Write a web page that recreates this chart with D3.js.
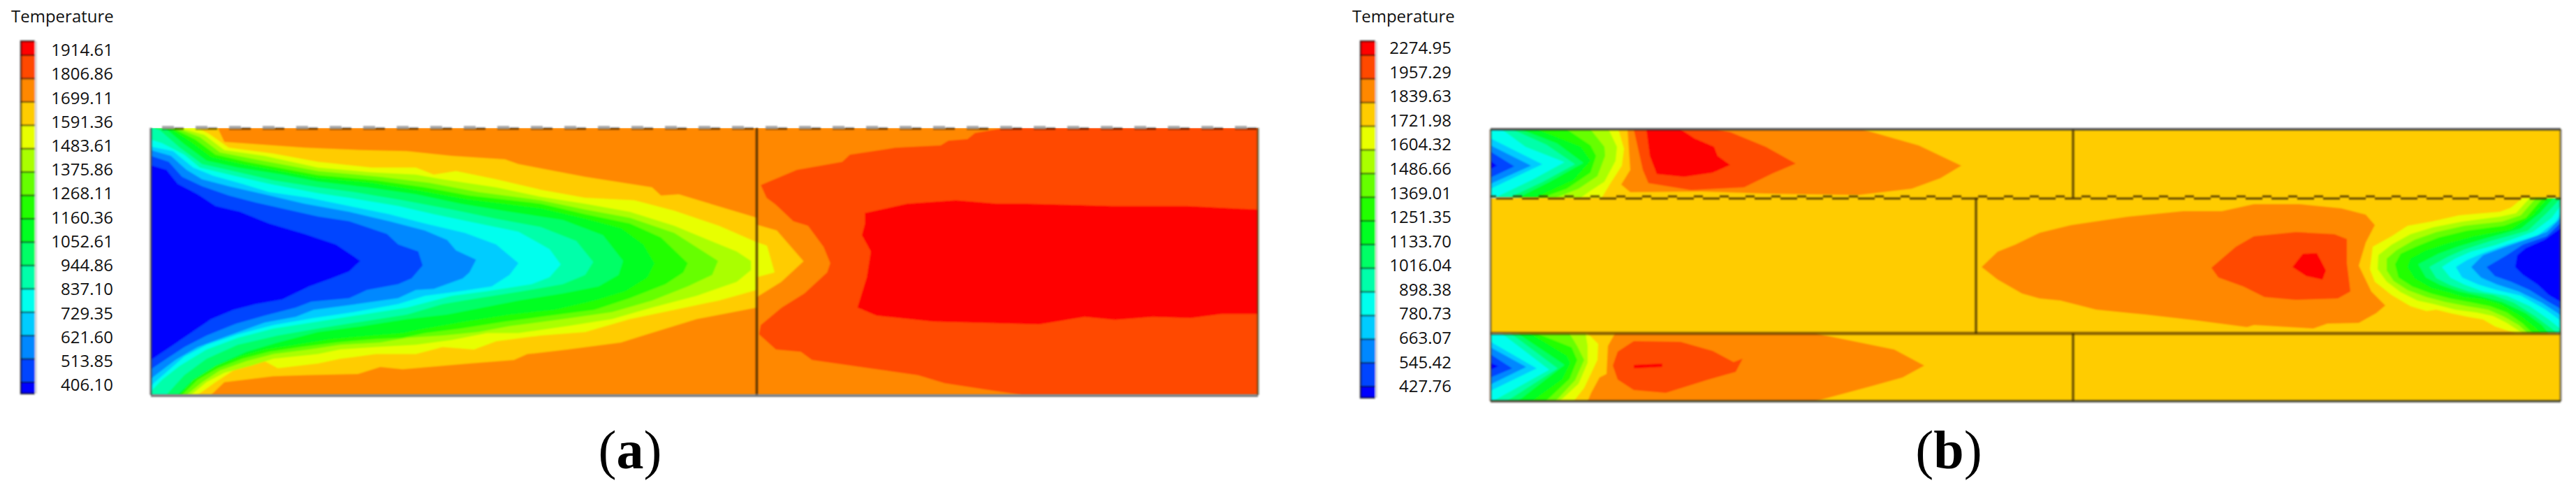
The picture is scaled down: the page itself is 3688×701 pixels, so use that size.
<!DOCTYPE html>
<html>
<head>
<meta charset="utf-8">
<script src="https://cdn.jsdelivr.net/npm/d3@7"></script>
<style>
  body { margin: 0; background: #fff; }
  svg { display: block; }
  text { font-family: "Open Sans", sans-serif; fill: #111; }
</style>
</head>
<body>
<svg id="chart" width="3688" height="701"></svg>
<script>
// Legend values
const ticksA = ["1914.61","1806.86","1699.11","1591.36","1483.61","1375.86","1268.11","1160.36","1052.61","944.86","837.10","729.35","621.60","513.85","406.10"];
const ticksB = ["2274.95","1957.29","1839.63","1721.98","1604.32","1486.66","1369.01","1251.35","1133.70","1016.04","898.38","780.73","663.07","545.42","427.76"];

// One colour for each temperature band, hottest first
const bands = ["#ff0000","#ff4800","#ff8800","#ffcc00","#e8ff00","#aaff00","#66ff00","#22ff00","#00ff22","#00ff66","#00ffaa","#00ffee","#00ccff","#0088ff","#0044ff","#0000ff"];

// Isotherms of (a) as [along, across].
// Each one closes the region that is colder than its band edge.
const aFfcc = [[25,70],[175,70],[190,130],[370,155],[500,165],[600,170],[700,190],[820,205],[850,225],[1000,280],[1150,325],[1170,360],[1210,355],[1385,455],[1385,485],[1430,510],[1490,642],[1440,730],[1385,795],[1385,840],[1250,890],[1130,960],[1080,990],[960,1020],[870,1040],[840,1065],[740,1080],[590,1105],[540,1095],[490,1125],[370,1130],[300,1135],[190,1160],[160,1215],[25,1215]];
const aYellow = [[25,70],[130,70],[155,95],[200,155],[300,180],[400,215],[520,240],[620,240],[660,270],[710,255],[800,290],[900,335],[1000,370],[1110,380],[1200,425],[1300,490],[1385,560],[1408,575],[1425,690],[1385,710],[1385,765],[1300,810],[1200,850],[1100,890],[1000,945],[900,960],[800,985],[750,1020],[680,1010],[620,1040],[530,1040],[450,1060],[400,1080],[310,1100],[270,1060],[210,1110],[170,1160],[130,1215],[25,1215]];
const aLime = [[25,70],[95,72],[145,100],[190,165],[280,190],[400,240],[520,260],[620,270],[680,290],[800,325],[900,365],[1000,395],[1100,430],[1200,490],[1270,545],[1340,600],[1372,640],[1372,680],[1340,730],[1250,790],[1150,840],[1060,890],[960,920],[850,950],[780,950],[700,980],[620,1000],[530,1010],[450,1020],[400,1040],[300,1060],[250,1090],[190,1120],[150,1160],[115,1215],[25,1215]];
const aLeaf = [[25,70],[85,72],[135,110],[180,175],[260,205],[400,255],[540,280],[650,305],[760,345],[900,380],[1000,420],[1100,455],[1200,520],[1298,640],[1285,700],[1230,750],[1150,810],[1060,860],[950,890],[830,920],[760,945],[680,960],[600,970],[540,990],[450,1000],[380,1020],[300,1040],[240,1070],[180,1110],[140,1160],[105,1215],[25,1215]];
const aGrass = [[25,70],[75,72],[125,120],[170,185],[240,215],[400,272],[530,295],[640,325],[740,360],[900,395],[1000,440],[1100,480],[1170,540],[1230,650],[1220,690],[1180,740],[1100,800],[1020,850],[920,875],[820,900],[720,930],[640,950],[590,970],[530,975],[440,990],[360,1010],[290,1030],[230,1060],[175,1100],[130,1150],[95,1215],[25,1215]];
const aGreen = [[25,70],[70,75],[115,130],[160,195],[230,225],[400,285],[520,305],[630,340],[730,375],[900,415],[1000,460],[1080,500],[1130,570],[1155,650],[1140,710],[1090,770],[1020,810],[930,850],[830,870],[730,900],[640,930],[590,950],[520,960],[430,975],[350,1000],[280,1020],[225,1050],[170,1090],[120,1150],[90,1215],[25,1215]];
const aMint = [[25,70],[60,75],[100,140],[150,210],[220,240],[320,270],[400,300],[510,325],[620,355],[720,395],[830,430],[950,465],[1040,530],[1085,640],[1075,700],[1030,750],[950,780],[850,810],[770,840],[690,870],[600,890],[500,920],[400,945],[310,990],[240,1030],[170,1090],[120,1150],[85,1215],[25,1215]];
const aAqua = [[25,70],[45,80],[90,155],[140,225],[210,255],[300,295],[400,325],[480,345],[590,380],[700,420],[800,460],[900,495],[980,555],[1018,645],[1000,700],[950,740],[860,770],[760,800],[680,825],[600,870],[500,900],[400,930],[310,960],[220,1000],[150,1060],[100,1130],[60,1215],[25,1215]];
const aCyan = [[25,120],[50,135],[100,185],[135,240],[200,270],[290,310],[400,350],[470,370],[580,405],[660,440],[760,480],[850,515],[920,590],[945,655],[920,710],[880,740],[780,770],[700,790],[600,840],[500,870],[400,900],[300,930],[220,970],[150,1020],[90,1090],[50,1150],[25,1200]];
const aSky = [[25,150],[75,170],[120,240],[165,275],[230,310],[290,345],[380,370],[470,405],[560,440],[640,480],[730,520],[800,570],[850,650],[830,700],[790,750],[720,770],[640,790],[580,825],[480,860],[390,885],[300,915],[220,955],[150,1000],[100,1050],[25,1175]];
const aAzure = [[25,165],[70,190],[105,250],[140,290],[200,320],[280,355],[370,395],[470,430],[560,470],[640,510],[690,550],[710,595],[755,635],[740,690],[725,715],[660,760],[620,765],[580,800],[470,830],[390,850],[350,880],[280,905],[200,960],[130,1010],[80,1065],[25,1145]];
const aCobalt = [[25,190],[65,215],[95,280],[140,320],[200,360],[260,390],[330,420],[400,450],[470,470],[555,525],[580,570],[625,600],[635,660],[610,715],[580,740],[510,765],[470,800],[385,815],[350,840],[280,875],[215,910],[150,960],[100,1010],[60,1060],[25,1105]];
const aBlue = [[25,230],[60,250],[85,310],[130,355],[170,405],[225,430],[290,480],[370,525],[440,570],[495,640],[470,685],[430,715],[380,750],[320,805],[260,825],[210,850],[160,890],[110,955],[60,1020],[25,1065]];
const aOrangeRed = [[1942,70],[1875,92],[1858,118],[1815,125],[1798,145],[1696,155],[1594,185],[1577,215],[1475,250],[1394,315],[1407,370],[1428,400],[1467,470],[1500,490],[1535,580],[1550,650],[1543,690],[1492,780],[1441,840],[1394,915],[1390,955],[1428,1020],[1484,1030],[1509,1065],[1637,1100],[1747,1130],[1807,1165],[1909,1195],[1981,1215],[2510,1215],[2510,70]];
const aRed = [[2510,420],[2350,405],[2181,405],[1994,395],[1926,395],[1832,380],[1722,395],[1628,435],[1628,480],[1621,530],[1641,600],[1632,710],[1611,840],[1654,875],[1781,900],[2019,912],[2121,880],[2189,893],[2274,880],[2359,885],[2427,868],[2510,868]];
const dividerA = 1385;

// Isotherms of (b), same idea. Top and bottom channels run from the left wall
const bTopOrange = [[196,0],[532,0],[613,23],[674,52],[644,70],[603,85],[527,94],[394,92],[302,89],[200,90],[187,79],[200,58]];
const bTopOrangeRed = [[205,0],[323,0],[343,4],[394,25],[437,49],[404,63],[363,83],[287,87],[226,77],[218,58]];
const bTopRed = [[223,0],[272,0],[292,13],[320,25],[325,38],[343,51],[318,62],[277,68],[238,64],[228,38]];
const bTopYellow = [[0,0],[183,0],[191,28],[188,52],[173,75],[159,98],[0,98]];
const bTopLime = [[0,0],[169,0],[181,25],[179,45],[163,75],[143,88],[129,98],[0,98]];
const bTopLeaf = [[0,0],[143,0],[163,25],[164,38],[153,67],[126,85],[93,98],[0,98]];
const bTopGrass = [[0,0],[109,0],[143,23],[151,38],[143,62],[109,85],[73,98],[0,98]];
const bTopGreen = [[0,0],[66,0],[129,25],[143,45],[119,72],[63,98],[0,98]];
const bTopMint = [[0,0],[43,0],[95,20],[133,48],[85,75],[39,98],[0,98]];
const bTopAqua = [[0,0],[31,0],[80,22],[121,50],[75,75],[26,98],[0,98]];
const bTopCyan = [[0,0],[16,0],[50,25],[106,47],[60,72],[6,98],[0,98]];
const bTopSky = [[0,13],[74,50],[0,85]];
const bTopAzure = [[0,23],[58,52],[0,78]];
const bTopCobalt = [[0,32],[34,53],[0,69]];
const bTopBlue = [[0,45],[9,52],[0,57]];

const bLowOrange = [[178,292],[465,292],[578,315],[621,338],[590,355],[547,367],[465,389],[139,389],[144,377],[156,355],[166,350],[168,310]];
const bLowOrangeRed = [[205,303],[272,304],[318,317],[348,333],[361,328],[351,347],[312,358],[251,377],[205,373],[182,358],[175,338],[182,318]];
const bLowRed = [[205,337],[246,335],[246,340],[205,342]];
const bLowYellow = [[0,292],[139,292],[154,307],[153,330],[134,370],[119,389],[0,389]];
const bLowLime = [[0,292],[136,292],[139,310],[139,334],[126,364],[99,389],[0,389]];
const bLowLeaf = [[0,292],[113,292],[124,310],[134,330],[121,359],[93,389],[0,389]];
const bLowGrass = [[0,292],[66,292],[116,312],[124,330],[113,357],[79,389],[0,389]];
const bLowGreen = [[0,292],[56,292],[109,324],[114,334],[103,357],[59,389],[0,389]];
const bLowMint = [[0,292],[39,292],[106,337],[39,389],[0,389]];
const bLowAqua = [[0,292],[29,292],[96,342],[23,389],[0,389]];
const bLowCyan = [[0,292],[16,292],[84,344],[3,389],[0,389]];
const bLowSky = [[0,304],[66,342],[0,374]];
const bLowAzure = [[0,312],[51,340],[0,365]];
const bLowCobalt = [[0,322],[31,342],[0,355]];
const bLowBlue = [[0,334],[11,339],[0,344]];

// Middle channel runs the other way, from the right wall
const bMidOrange = [[703,197],[726,175],[751,165],[786,148],[831,137],[912,125],[992,117],[1047,117],[1093,107],[1158,107],[1218,113],[1253,122],[1266,137],[1253,162],[1243,195],[1261,232],[1281,252],[1268,263],[1243,277],[1198,278],[1178,285],[1093,280],[1083,283],[1007,273],[937,265],[867,258],[816,245],[786,242],[761,235],[726,215]];
const bMidOrangeRed = [[1032,198],[1067,168],[1093,153],[1153,147],[1208,150],[1226,157],[1226,192],[1231,232],[1213,242],[1153,244],[1108,240],[1078,225],[1042,212]];
const bMidRed = [[1148,197],[1163,178],[1183,177],[1196,202],[1191,215],[1168,210]];
const bMidYellow = [[1478,98],[1461,112],[1445,118],[1387,123],[1347,132],[1313,138],[1290,153],[1263,168],[1259,200],[1266,218],[1290,237],[1317,253],[1340,260],[1354,258],[1374,263],[1398,268],[1421,272],[1438,282],[1468,292],[1534,292],[1534,98]];
const bMidLime = [[1488,98],[1468,120],[1445,125],[1391,132],[1350,140],[1317,150],[1290,165],[1271,180],[1270,200],[1283,218],[1303,233],[1327,245],[1350,250],[1381,258],[1411,262],[1435,267],[1455,277],[1478,292],[1534,292],[1534,98]];
const bMidLeaf = [[1497,98],[1475,123],[1448,132],[1394,138],[1354,147],[1323,158],[1297,173],[1283,185],[1283,202],[1293,217],[1313,230],[1340,240],[1367,247],[1398,253],[1428,258],[1451,268],[1472,280],[1485,292],[1534,292],[1534,98]];
const bMidGrass = [[1507,98],[1482,127],[1451,138],[1398,145],[1357,155],[1327,167],[1303,178],[1295,193],[1300,212],[1320,225],[1347,235],[1374,242],[1401,247],[1431,253],[1455,262],[1478,278],[1492,292],[1534,292],[1534,98]];
const bMidGreen = [[1514,98],[1492,123],[1461,143],[1408,153],[1371,163],[1340,173],[1317,185],[1313,197],[1323,213],[1347,227],[1371,233],[1394,240],[1421,243],[1445,250],[1475,267],[1495,283],[1505,292],[1534,292],[1534,98]];
const bMidMint = [[1522,98],[1502,120],[1475,142],[1421,157],[1384,168],[1357,178],[1328,193],[1339,212],[1360,223],[1387,232],[1414,238],[1448,247],[1482,263],[1505,280],[1515,292],[1534,292],[1534,98]];
const bMidAqua = [[1534,98],[1529,102],[1512,120],[1485,145],[1431,160],[1394,172],[1371,182],[1344,197],[1354,213],[1374,223],[1401,232],[1435,237],[1465,248],[1495,267],[1519,285],[1527,292],[1534,292]];
const bMidCyan = [[1534,107],[1519,127],[1492,147],[1441,165],[1404,175],[1381,185],[1362,197],[1374,212],[1394,222],[1421,232],[1455,238],[1488,253],[1515,272],[1534,287]];
const bMidSky = [[1534,118],[1525,132],[1499,152],[1455,165],[1421,177],[1398,187],[1382,197],[1391,212],[1414,222],[1441,230],[1475,238],[1509,257],[1534,275]];
const bMidAzure = [[1534,125],[1512,147],[1482,158],[1448,170],[1421,180],[1404,197],[1418,212],[1441,222],[1472,232],[1505,248],[1534,267]];
const bMidCobalt = [[1534,132],[1512,153],[1478,165],[1455,180],[1438,190],[1426,197],[1438,210],[1461,218],[1488,230],[1515,247],[1534,258]];
const bMidBlue = [[1534,140],[1509,158],[1482,170],[1470,180],[1467,197],[1478,208],[1499,222],[1515,237],[1534,248]];

const dividersB = [[695,98,292],[834,0,98],[834,292,389]];

// Layers are painted in order, each one on top of the last: [band index, isotherm]
const layersA = [[3,aFfcc],[4,aYellow],[5,aLime],[6,aLeaf],[7,aGrass],[8,aGreen],[9,aMint],[10,aAqua],[11,aCyan],[12,aSky],[13,aAzure],[14,aCobalt],[15,aBlue],[1,aOrangeRed],[0,aRed]];
const layersB = [
  [2,bTopOrange],[1,bTopOrangeRed],[0,bTopRed],[4,bTopYellow],[5,bTopLime],[6,bTopLeaf],[7,bTopGrass],[8,bTopGreen],[9,bTopMint],[10,bTopAqua],[11,bTopCyan],[12,bTopSky],[13,bTopAzure],[14,bTopCobalt],[15,bTopBlue],
  [2,bLowOrange],[1,bLowOrangeRed],[0,bLowRed],[4,bLowYellow],[5,bLowLime],[6,bLowLeaf],[7,bLowGrass],[8,bLowGreen],[9,bLowMint],[10,bLowAqua],[11,bLowCyan],[12,bLowSky],[13,bLowAzure],[14,bLowCobalt],[15,bLowBlue],
  [2,bMidOrange],[1,bMidOrangeRed],[0,bMidRed],[4,bMidYellow],[5,bMidLime],[6,bMidLeaf],[7,bMidGrass],[8,bMidGreen],[9,bMidMint],[10,bMidAqua],[11,bMidCyan],[12,bMidSky],[13,bMidAzure],[14,bMidCobalt],[15,bMidBlue]
];

const svg = d3.select("#chart");

// Slight softness, the reference is an upscaled screenshot
const defs = svg.append("defs");
defs.append("filter").attr("id", "soft")
  .attr("filterUnits", "userSpaceOnUse")
  .attr("x", 0).attr("y", 0).attr("width", 3688).attr("height", 701)
  .append("feGaussianBlur").attr("stdDeviation", 1);

const xA = d3.scaleLinear().domain([25, 2510]).range([216, 1801]);
const yA = d3.scaleLinear().domain([70, 1215]).range([183, 565]);
const xB = d3.scaleLinear().domain([0, 1532]).range([2134, 3666]);
const yB = d3.scaleLinear().domain([0, 389]).range([185, 574]);

function drawField(id, base, layers, x, y) {
  defs.append("clipPath").attr("id", id)
    .append("rect")
    .attr("x", x.range()[0]).attr("y", y.range()[0])
    .attr("width", x.range()[1] - x.range()[0])
    .attr("height", y.range()[1] - y.range()[0]);

  const g = svg.append("g").attr("clip-path", `url(#${id})`).append("g");

  g.append("rect")
    .attr("x", x.range()[0]).attr("y", y.range()[0])
    .attr("width", x.range()[1] - x.range()[0])
    .attr("height", y.range()[1] - y.range()[0])
    .attr("fill", bands[base]);

  const line = d3.line().x(d => x(d[0])).y(d => y(d[1])).curve(d3.curveLinearClosed);

  g.selectAll("path.layer")
    .data(layers)
    .join("path")
    .attr("class", "layer")
    .attr("d", d => line(d[1]))
    .attr("fill", d => bands[d[0]]);

  return g;
}

function drawLegend(ticks, title, opts) {
  const g = svg.append("g").attr("filter", "url(#soft)");
  const edgeY = d3.scalePoint().domain(ticks).range(opts.edges);
  const labelY = d3.scalePoint().domain(ticks).range(opts.labels);

  // Band edges, with the end caps added on
  const ys = [opts.top].concat(ticks.map(t => edgeY(t))).concat([opts.bottom]);

  g.selectAll("rect.band")
    .data(bands)
    .join("rect")
    .attr("class", "band")
    .attr("x", opts.x).attr("width", opts.w)
    .attr("y", (d, i) => ys[i])
    .attr("height", (d, i) => ys[i + 1] - ys[i])
    .attr("fill", d => d);

  g.selectAll("line.tick")
    .data(ticks)
    .join("line")
    .attr("class", "tick")
    .attr("x1", opts.x).attr("x2", opts.x + opts.w)
    .attr("y1", t => edgeY(t)).attr("y2", t => edgeY(t))
    .attr("stroke", "#000").attr("stroke-opacity", 0.7).attr("stroke-width", 2);

  // Dark frame on the left and at the two ends, pale edge on the right
  g.append("path")
    .attr("d", `M${opts.x + opts.w},${opts.top}H${opts.x}V${opts.bottom}H${opts.x + opts.w}`)
    .attr("fill", "none").attr("stroke", "#000").attr("stroke-opacity", 0.75).attr("stroke-width", 2.5);
  g.append("line")
    .attr("x1", opts.x + opts.w + 1.5).attr("x2", opts.x + opts.w + 1.5)
    .attr("y1", opts.top).attr("y2", opts.bottom)
    .attr("stroke", "#d8d8d8").attr("stroke-width", 3);

  const axis = svg.append("g").attr("transform", `translate(${opts.labelRight},0)`)
    .call(d3.axisRight(labelY).tickSize(0));
  axis.select(".domain").remove();
  axis.selectAll("text")
    .attr("x", 0)
    .attr("text-anchor", "end")
    .style("font-family", '"Open Sans", sans-serif')
    .style("font-size", "24px")
    .style("fill", "#111");

  svg.append("text")
    .attr("x", opts.titleX).attr("y", 32)
    .attr("font-size", 24)
    .text(title);
}

function rule(parent, x1, y1, x2, y2, color, width, dash, offset) {
  const l = parent.append("line")
    .attr("x1", x1).attr("y1", y1).attr("x2", x2).attr("y2", y2)
    .attr("stroke", color).attr("stroke-width", width);
  if (dash) l.attr("stroke-dasharray", dash).attr("stroke-dashoffset", offset || 0);
  return l;
}

function caption(cx, letter) {
  const t = svg.append("text")
    .attr("x", cx).attr("y", 670)
    .attr("text-anchor", "middle")
    .style("font-family", '"Liberation Serif", serif')
    .style("font-size", "78px")
    .style("fill", "#000");
  t.append("tspan").text("(");
  t.append("tspan").attr("font-weight", "bold").text(letter);
  t.append("tspan").text(")");
}

// Panel (a)
const plotA = drawField("clipA", 2, layersA, xA, yA);
plotA.attr("filter", "url(#soft)");
drawLegend(ticksA, "Temperature", { x: 30, w: 20, top: 59, bottom: 563, edges: [79, 547], labels: [72, 551], labelRight: 162, titleX: 16 });

const linesA = svg.append("g").attr("filter", "url(#soft)");
rule(linesA, xA(dividerA), yA(70), xA(dividerA), yA(1215), "rgba(50,30,0,0.75)", 3.5);
rule(linesA, xA.range()[0], yA.range()[1] + 1, xA.range()[1], yA.range()[1] + 1, "#6f6f6f", 3.5);
rule(linesA, xA.range()[0], yA.range()[0], xA.range()[0], yA.range()[1], "rgba(70,70,70,0.8)", 3);
rule(linesA, xA.range()[1], yA.range()[0], xA.range()[1], yA.range()[1], "rgba(70,50,0,0.7)", 3);
// Top edge is a broken line, dark dashes with pale gaps a little higher
rule(linesA, xA.range()[0], yA.range()[0] + 1, xA.range()[1], yA.range()[0] + 1, "rgba(0,0,0,0.5)", 3.5, "31 17", 17 - 33);
rule(linesA, xA.range()[0], yA.range()[0] - 1, xA.range()[1], yA.range()[0] - 1, "#a0a0a0", 3.5, "17 31", -16);

// Panel (b)
const plotB = drawField("clipB", 3, layersB, xB, yB);
plotB.attr("filter", "url(#soft)");
drawLegend(ticksB, "Temperature", { x: 1948, w: 21, top: 59, bottom: 569, edges: [79, 553], labels: [69, 553], labelRight: 2078, titleX: 1936 });

const linesB = svg.append("g").attr("filter", "url(#soft)");
dividersB.forEach(d => {
  rule(linesB, xB(d[0]), yB(d[1]), xB(d[0]), yB(d[2]), "rgba(50,35,0,0.7)", 3.5);
});
rule(linesB, xB.range()[0], yB.range()[0], xB.range()[1], yB.range()[0], "rgba(50,50,50,0.85)", 3.5);
rule(linesB, xB.range()[0], yB(292), xB.range()[1], yB(292), "rgba(60,30,0,0.6)", 4.5);
rule(linesB, xB.range()[0], yB.range()[1], xB.range()[1], yB.range()[1], "rgba(50,50,30,0.85)", 3.5);
rule(linesB, xB.range()[0], yB.range()[0], xB.range()[0], yB.range()[1], "rgba(80,70,40,0.7)", 3);
rule(linesB, xB.range()[1], yB.range()[0], xB.range()[1], yB.range()[1], "rgba(80,70,40,0.7)", 3);
// The top of the middle channel is a wavy line, drawn as two dashes that swap level
rule(linesB, xB.range()[0], yB(99), xB.range()[1], yB(99), "rgba(60,40,0,0.8)", 3, "24 13", -8);
rule(linesB, xB.range()[0], yB(96), xB.range()[1], yB(96), "rgba(60,40,0,0.8)", 3, "13 24", -32);

caption(902, "a");
caption(2790, "b");
</script>
</body>
</html>
